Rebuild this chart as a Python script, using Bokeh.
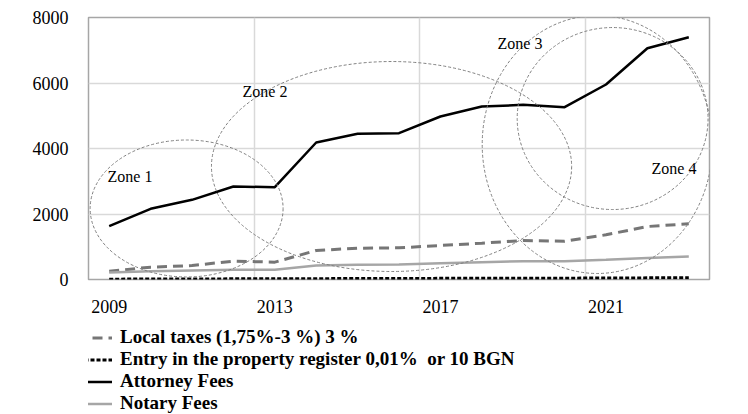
from bokeh.plotting import figure
from bokeh.layouts import column
from bokeh.models import FixedTicker, Grid, Legend, LegendItem, ColumnDataSource, Range1d
from bokeh.embed import file_html
from bokeh.resources import INLINE

years = list(range(2009, 2024))
local_taxes = [254, 376, 427, 560, 530, 885, 956, 967, 1038, 1109, 1190, 1170, 1364, 1618, 1700]
property_register = [10, 15, 15, 20, 20, 25, 30, 30, 35, 40, 40, 40, 45, 50, 50]
attorney_fees = [1630, 2158, 2433, 2840, 2818, 4183, 4448, 4467, 4977, 5282, 5333, 5262, 5954, 7063, 7398]
notary_fees = [214, 250, 275, 295, 300, 427, 448, 458, 498, 530, 560, 560, 600, 660, 700]

series_labels = ["Local taxes (1,75%-3 %) 3 %",
                 "Entry in the property register 0,01%  or 10 BGN",
                 "Attorney Fees",
                 "Notary Fees"]

x_tick_years = [2009, 2013, 2017, 2021]
y_ticks = [0, 2000, 4000, 6000, 8000]

zone_names = ["Zone 1", "Zone 2", "Zone 3", "Zone 4"]
zone_x = [2010.87, 2015.82, 2020.79, 2021.16]
zone_y = [2168, 3450, 4122, 4915]
zone_w = [4.66, 8.70, 5.56, 4.61]
zone_h = [4183, 6411, 7877, 5557]
zone_label_x = [2008.96, 2012.22, 2018.38, 2022.10]
zone_label_y = [3145, 5740, 7205, 3389]

SERIF = "Liberation Serif"
STYLES = [dict(line_color="#767676", line_width=3, line_dash="10 6"),
          dict(line_color="#000000", line_width=3, line_dash="4 2"),
          dict(line_color="#000000", line_width=2.5),
          dict(line_color="#a6a6a6", line_width=2.5)]

src = ColumnDataSource(dict(x=years, lt=local_taxes, pr=property_register,
                            af=attorney_fees, nf=notary_fees))
cols = ["lt", "pr", "af", "nf"]

# ---------------- main chart ----------------
p = figure(width=740, height=316, output_backend="svg", toolbar_location=None,
           x_range=Range1d(2008.5, 2023.5), y_range=Range1d(0, 8000),
           min_border_left=88, min_border_right=31, min_border_top=17, min_border_bottom=37)

p.outline_line_color = "#a6a6a6"
p.outline_line_width = 1.5

p.xaxis.ticker = FixedTicker(ticks=x_tick_years)
p.yaxis.ticker = FixedTicker(ticks=y_ticks)
for ax in (p.xaxis[0], p.yaxis[0]):
    ax.axis_line_color = None
    ax.major_tick_line_color = None
    ax.minor_tick_line_color = None
    ax.major_label_text_font = SERIF
    ax.major_label_text_font_size = "18px"
    ax.major_label_text_color = "#000000"
    ax.major_label_standoff = 14

p.xgrid.visible = False
p.ygrid.grid_line_color = "#d9d9d9"
p.ygrid.grid_line_width = 1.5
p.add_layout(Grid(dimension=0, ticker=FixedTicker(ticks=[2012.5, 2016.5, 2020.5]),
                  grid_line_color="#d9d9d9", grid_line_width=1.5))

for c, st in zip(cols, STYLES):
    p.line("x", c, source=src, **st)

zsrc = ColumnDataSource(dict(x=zone_x, y=zone_y, w=zone_w, h=zone_h))
p.ellipse(x="x", y="y", width="w", height="h", source=zsrc, fill_color=None,
          line_color="#808080", line_width=1, line_dash="3 2")
tsrc = ColumnDataSource(dict(x=zone_label_x, y=zone_label_y, t=zone_names))
p.text(x="x", y="y", text="t", source=tsrc, text_font={"value": SERIF},
       text_font_size="16px", text_color="#000000", text_baseline="middle", text_align="left")

# ---------------- legend strip ----------------
lg = figure(width=740, height=98, output_backend="svg", toolbar_location=None,
            x_range=Range1d(0, 1), y_range=Range1d(0, 1),
            x_axis_type=None, y_axis_type=None,
            min_border_left=0, min_border_right=0, min_border_top=0, min_border_bottom=0)
lg.outline_line_color = None
lg.xgrid.visible = False
lg.ygrid.visible = False
items = []
for c, st, lab in zip(cols, STYLES, series_labels):
    r = lg.line("x", c, source=src, **st)   # off-range: only its legend sample shows
    items.append(LegendItem(label=lab, renderers=[r]))

legend = Legend(items=items, location=(-28, 0))
legend.background_fill_alpha = 0
legend.border_line_color = None
legend.padding = 0
legend.margin = 0
legend.spacing = 0
legend.glyph_width = 52
legend.glyph_height = 21
legend.label_height = 21
legend.label_standoff = 8
legend.label_text_font = SERIF
legend.label_text_font_style = "bold"
legend.label_text_font_size = "19px"
legend.label_text_color = "#000000"
lg.add_layout(legend)

layout = column(p, lg, spacing=0)
open("out.html", "w").write(file_html(layout, INLINE))
